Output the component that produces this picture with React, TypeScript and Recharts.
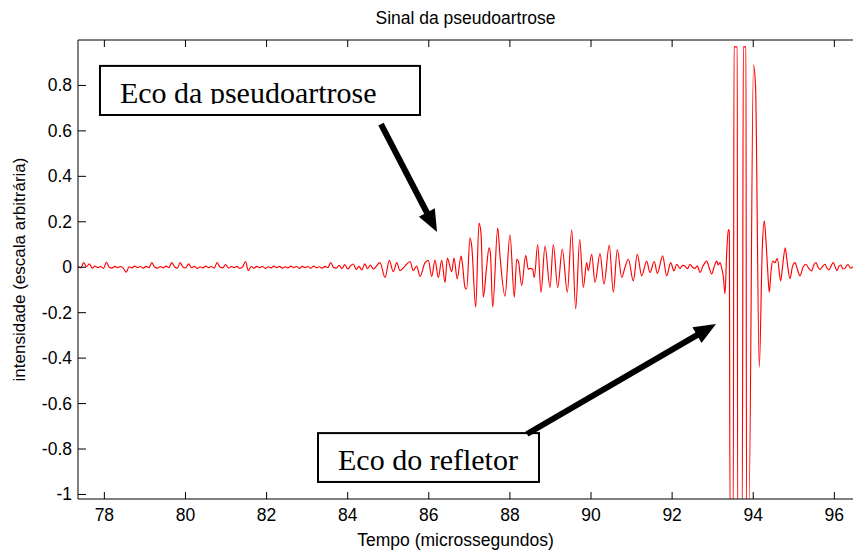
import { LineChart, Line, XAxis, YAxis, ReferenceArea, ReferenceLine } from 'recharts';

const X_MIN = 77.35;
const X_MAX = 96.46;
const Y_MIN = -1.02;
const Y_MAX = 1.0;

const xTicks = [78, 80, 82, 84, 86, 88, 90, 92, 94, 96];
const yTicks = [-1, -0.8, -0.6, -0.4, -0.2, 0, 0.2, 0.4, 0.6, 0.8];

// ruído de fundo, amostrado a cada 0.07 µs a partir de 77.35
const noiseStart = 77.35;
const noiseStep = 0.07;
const noiseValues = [
  0.004, -0.003, 0.02, 0.002, 0.015, -0.004, 0.005, -0.002, 0.003, -0.005,
  0.022, 0.0, -0.004, 0.004, -0.002, 0.003, -0.005, -0.022, 0.002, -0.003,
  0.005, -0.002, 0.003, -0.004, 0.004, -0.002, 0.02, 0.001, -0.004, 0.003,
  -0.003, 0.005, -0.002, 0.02, 0.002, -0.004, 0.02, 0.0, -0.003, 0.015,
  -0.002, 0.004, -0.005, 0.002, -0.003, 0.005, -0.002, 0.003, -0.004, 0.02,
  0.001, -0.003, 0.012, -0.004, 0.003, -0.002, 0.004, -0.005, 0.002, 0.025,
  -0.015, 0.003, -0.004, 0.004, -0.002, 0.003, -0.005, 0.002, -0.003, 0.005,
  -0.002, 0.004, -0.004, 0.002, -0.003, 0.005, -0.002, 0.003, -0.005, 0.004,
  -0.002, 0.003, -0.004, 0.005, -0.002, 0.002, -0.004, 0.004, -0.002, 0.02,
  0.0, -0.004, 0.008, -0.006, 0.012, -0.008, 0.006, 0.014, -0.01, 0.004,
  -0.012, 0.015, -0.006, 0.01, -0.008,
];

// eco da pseudoartrose [tempo, intensidade]
const echoPoints: [number, number][] = [
  [84.797, 0.02], [84.921, -0.045], [85.027, 0.03], [85.125, -0.02], [85.209, 0.02],
  [85.29, -0.015], [85.414, 0.005], [85.537, 0.025], [85.618, -0.015], [85.7, 0.005],
  [85.784, -0.04], [85.907, 0.02], [85.988, 0.03], [86.072, -0.04], [86.153, 0.03],
  [86.235, -0.045], [86.318, 0.03], [86.4, -0.067], [86.457, 0.04], [86.565, -0.02],
  [86.622, 0.04], [86.7, -0.05], [86.795, 0.049], [86.826, 0.02], [86.893, -0.089],
  [86.934, -0.096], [87.016, 0.129], [87.058, 0.093], [87.157, -0.176], [87.238, 0.194],
  [87.287, 0.15], [87.344, -0.132], [87.428, 0.006], [87.485, 0.085], [87.518, 0.064],
  [87.576, -0.176], [87.699, 0.172], [87.756, 0.049], [87.879, -0.127], [88.002, 0.143],
  [88.108, -0.132], [88.168, 0.035], [88.208, 0.027], [88.291, -0.081], [88.389, 0.052],
  [88.454, -0.009], [88.496, -0.005], [88.562, -0.009], [88.602, -0.045], [88.685, 0.1],
  [88.767, -0.11], [88.865, 0.093], [88.989, -0.089], [89.07, 0.1], [89.179, -0.089],
  [89.292, 0.08], [89.416, -0.11], [89.524, 0.165], [89.622, -0.183], [89.721, 0.122],
  [89.81, -0.089], [89.893, 0.02], [89.933, -0.015], [90.017, 0.057], [90.098, -0.067],
  [90.222, 0.06], [90.32, -0.074], [90.451, 0.097], [90.55, -0.11], [90.648, 0.078],
  [90.757, -0.045], [90.838, 0.0], [90.92, 0.035], [91.043, -0.06], [91.141, 0.057],
  [91.25, -0.038], [91.373, 0.027], [91.454, -0.023], [91.56, 0.025], [91.634, -0.027],
  [91.767, 0.05], [91.866, -0.038], [91.964, 0.02], [92.046, -0.016], [92.112, 0.013],
  [92.194, -0.005], [92.26, 0.008], [92.317, 0.005], [92.38, -0.006], [92.44, 0.013],
  [92.5, 0.0], [92.564, -0.005], [92.62, 0.006], [92.687, -0.023], [92.761, 0.005],
  [92.852, 0.027], [92.909, 0.0], [92.976, -0.03], [93.033, 0.0], [93.099, 0.027],
  [93.139, 0.01], [93.18, 0.02], [93.23, -0.01], [93.262, -0.04], [93.303, -0.117],
  [93.345, 0.06], [93.385, 0.165], [93.41, 0.16],
];

// eco do refletor (saturado) e cauda
const reflectorPoints: [number, number][] = [
  [93.427, -1.06], [93.508, -1.06], [93.526, 0.97], [93.607, 0.97], [93.614, -1.06],
  [93.73, -1.06], [93.755, 0.97], [93.821, 0.97], [93.834, -1.06], [93.895, -1.06],
  [94.006, 0.89], [94.056, 0.8], [94.149, -0.44], [94.223, 0.085], [94.273, 0.204],
  [94.315, 0.114], [94.352, 0.0], [94.396, -0.11], [94.438, -0.02], [94.48, 0.027],
  [94.536, 0.02], [94.593, 0.039], [94.677, -0.06], [94.721, 0.0], [94.79, 0.085],
  [94.832, 0.03], [94.906, -0.05], [94.97, 0.005], [95.029, 0.02], [95.09, -0.01],
  [95.152, -0.038], [95.226, 0.0], [95.3, 0.013], [95.37, -0.006], [95.441, -0.016],
  [95.49, 0.008], [95.547, 0.02], [95.6, 0.0], [95.646, -0.01], [95.71, 0.004],
  [95.769, 0.013], [95.82, -0.004], [95.867, -0.012], [95.92, 0.006], [95.974, 0.02],
  [96.02, 0.002], [96.065, -0.015], [96.11, 0.004], [96.163, 0.01], [96.21, -0.008],
  [96.262, -0.005], [96.3, 0.006], [96.336, 0.012], [96.4, -0.004], [96.46, 0.002],
];

const signal = [
  ...noiseValues.map((v, i) => ({ t: noiseStart + i * noiseStep, v })),
  ...echoPoints.map(([t, v]) => ({ t, v })),
  ...reflectorPoints.map(([t, v]) => ({ t, v })),
];

const SANS = '"Liberation Sans", Arial, Helvetica, sans-serif';
const SERIF = '"Liberation Serif", "Times New Roman", serif';

const BottomTick = (props: any) => {
  const { x, y, payload } = props;
  return (
    <g>
      <line x1={x} y1={y} x2={x} y2={y - 7} stroke="#000" />
      <text x={x} y={y + 22} textAnchor="middle" fontSize={17.5} fontFamily={SANS} fill="#000">
        {payload.value}
      </text>
    </g>
  );
};

const TopTick = (props: any) => {
  const { x, y } = props;
  return <line x1={x} y1={y} x2={x} y2={y + 7} stroke="#000" />;
};

const LeftTick = (props: any) => {
  const { x, y, payload } = props;
  return (
    <g>
      <line x1={x} y1={y} x2={x + 8} y2={y} stroke="#000" />
      <text x={x - 6} y={y + 6} textAnchor="end" fontSize={17.5} fontFamily={SANS} fill="#000">
        {payload.value}
      </text>
    </g>
  );
};

const textBox = (label: string, id: string) => (props: any) => {
  const { x, y, width, height } = props;
  return (
    <g>
      <defs>
        <clipPath id={id}>
          <rect x={x} y={y} width={width} height={38} />
        </clipPath>
      </defs>
      <rect x={x} y={y} width={width} height={height} fill="#fff" stroke="#000" strokeWidth={2} />
      <text x={x + 20} y={y + 37} clipPath={`url(#${id})`} fontFamily={SERIF} fontSize={30} fill="#000">
        {label}
      </text>
    </g>
  );
};

const Arrow = (props: any) => {
  const { x1, y1, x2, y2 } = props;
  const dx = x2 - x1;
  const dy = y2 - y1;
  const len = Math.hypot(dx, dy) || 1;
  const ux = dx / len;
  const uy = dy / len;
  const head = 22;
  const half = 9;
  const bx = x2 - ux * head;
  const by = y2 - uy * head;
  return (
    <g>
      <line x1={x1} y1={y1} x2={bx + ux * 2} y2={by + uy * 2} stroke="#000" strokeWidth={6} />
      <polygon
        points={`${x2},${y2} ${bx - uy * half},${by + ux * half} ${bx + uy * half},${by - ux * half}`}
        fill="#000"
      />
    </g>
  );
};

export default function App() {
  return (
    <div style={{ position: 'absolute', left: 0, top: 0, width: 853, height: 550, background: '#fff' }}>
      <LineChart
        width={853}
        height={550}
        data={signal}
        margin={{ top: 0, right: 0, bottom: 3, left: 0 }}
        style={{ fontFamily: SANS }}
      >
        <XAxis
          xAxisId="top"
          orientation="top"
          type="number"
          dataKey="t"
          domain={[X_MIN, X_MAX]}
          ticks={xTicks}
          interval={0}
          allowDataOverflow
          height={40}
          tickLine={false}
          tickSize={0}
          tickMargin={0}
          tick={TopTick}
          axisLine={{ stroke: '#000' }}
          label={{
            value: 'Sinal da pseudoartrose',
            position: 'insideTop',
            offset: 12,
            fill: '#000',
            fontSize: 17.5,
            fontFamily: SANS,
          }}
        />
        <XAxis
          type="number"
          dataKey="t"
          domain={[X_MIN, X_MAX]}
          ticks={xTicks}
          interval={0}
          allowDataOverflow
          height={48}
          tickLine={false}
          tickSize={0}
          tickMargin={0}
          tick={BottomTick}
          axisLine={{ stroke: '#000' }}
          label={{
            value: 'Tempo (microssegundos)',
            position: 'insideBottom',
            offset: 1,
            dx: -10,
            fill: '#000',
            fontSize: 17.5,
            fontFamily: SANS,
          }}
        />
        <YAxis
          type="number"
          domain={[Y_MIN, Y_MAX]}
          ticks={yTicks}
          interval={0}
          allowDataOverflow
          width={78}
          tickLine={false}
          tickSize={0}
          tickMargin={0}
          tick={LeftTick}
          axisLine={{ stroke: '#000' }}
          label={{
            value: 'intensidade (escala arbitrária)',
            angle: -90,
            position: 'insideLeft',
            offset: 19,
            fill: '#000',
            fontSize: 17,
            fontFamily: SANS,
            style: { textAnchor: 'middle' },
          }}
        />
        <Line
          type="monotone"
          dataKey="v"
          stroke="#ff0000"
          strokeWidth={1.15}
          dot={false}
          activeDot={false}
          isAnimationActive={false}
        />
        <ReferenceArea
          x1={77.892}
          x2={85.783}
          y1={0.67}
          y2={0.886}
          ifOverflow="visible"
          shape={textBox('Eco da pseudoartrose', 'clip-box-1')}
        />
        <ReferenceArea
          x1={83.268}
          x2={88.717}
          y1={-0.945}
          y2={-0.73}
          ifOverflow="visible"
          shape={textBox('Eco do refletor', 'clip-box-2')}
        />
        <ReferenceLine
          segment={[
            { x: 84.821, y: 0.63 },
            { x: 86.202, y: 0.155 },
          ]}
          ifOverflow="visible"
          shape={Arrow}
        />
        <ReferenceLine
          segment={[
            { x: 88.421, y: -0.734 },
            { x: 93.082, y: -0.25 },
          ]}
          ifOverflow="visible"
          shape={Arrow}
        />
      </LineChart>
    </div>
  );
}
